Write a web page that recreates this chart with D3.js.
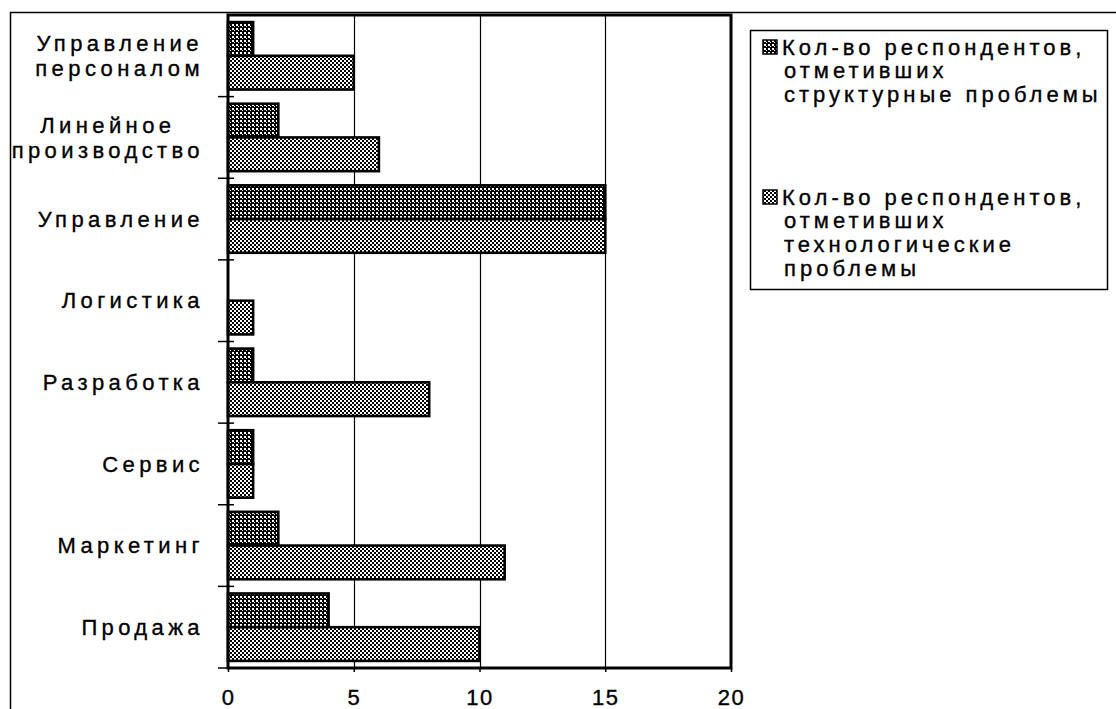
<!DOCTYPE html>
<html>
<head>
<meta charset="utf-8">
<script src="https://cdn.jsdelivr.net/npm/d3@7"></script>
<style>
  html, body { margin: 0; padding: 0; background: #fff; }
  svg { display: block; }
  text { font-family: "Liberation Sans", Arial, sans-serif; fill: #000; stroke: #000; stroke-width: 0.35px; }
</style>
</head>
<body>
<svg id="chart" width="1116" height="709"></svg>
<script>
// Departments (top to bottom) with label lines
const categories = ["Управление персоналом", "Линейное производство", "Управление", "Логистика", "Разработка", "Сервис", "Маркетинг", "Продажа"];
const categoryLines = [["Управление", "персоналом"], ["Линейное", "производство"], ["Управление"], ["Логистика"], ["Разработка"], ["Сервис"], ["Маркетинг"], ["Продажа"]];
// Respondents reporting structural problems
const structural = [1, 2, 15, 0, 1, 1, 2, 4];
// Respondents reporting technological problems
const technological = [5, 6, 15, 1, 8, 1, 11, 10];
const xTicks = [0, 5, 10, 15, 20];
const seriesNames = [
  ["Кол-во респондентов,", "отметивших", "структурные проблемы"],
  ["Кол-во респондентов,", "отметивших", "технологические", "проблемы"]
];

const svg = d3.select("#chart");
const defs = svg.append("defs");

// Dark dotted fill: black with sparse white dots
const p1 = defs.append("pattern").attr("id", "patDark")
  .attr("patternUnits", "userSpaceOnUse").attr("width", 4).attr("height", 4);
p1.append("rect").attr("width", 4).attr("height", 4).attr("fill", "#000");
p1.append("rect").attr("x", 0).attr("y", 0).attr("width", 2).attr("height", 2).attr("fill", "#fff");
p1.append("rect").attr("x", 2).attr("y", 2).attr("width", 1).attr("height", 1).attr("fill", "#fff");

// Light checker fill
const p2 = defs.append("pattern").attr("id", "patLight")
  .attr("patternUnits", "userSpaceOnUse").attr("width", 4).attr("height", 4);
p2.append("rect").attr("width", 4).attr("height", 4).attr("fill", "#000");
p2.append("rect").attr("x", 0).attr("y", 0).attr("width", 2).attr("height", 2).attr("fill", "#fff");
p2.append("rect").attr("x", 2).attr("y", 2).attr("width", 2).attr("height", 2).attr("fill", "#fff");

// Outer frame (left and top edges)
svg.append("line").attr("x1", 10.5).attr("y1", 12).attr("x2", 10.5).attr("y2", 709).attr("stroke", "#000").attr("stroke-width", 1.5);
svg.append("line").attr("x1", 10).attr("y1", 12.5).attr("x2", 1116).attr("y2", 12.5).attr("stroke", "#000").attr("stroke-width", 1.5);

const plot = { left: 228, right: 731, top: 15, bottom: 668 };

const x = d3.scaleLinear().domain([0, 20]).range([plot.left, plot.right]);
const y = d3.scaleBand().domain(categories).range([plot.top, plot.bottom]).paddingInner(0).paddingOuter(0);
const inner = d3.scaleBand().domain(["s", "t"]).range([0, y.bandwidth()]).paddingOuter(0.21).paddingInner(0);

// Vertical gridlines
svg.append("g").selectAll("line").data(xTicks.slice(1, -1)).join("line")
  .attr("x1", d => Math.round(x(d)) + 0.5).attr("x2", d => Math.round(x(d)) + 0.5)
  .attr("y1", plot.top).attr("y2", plot.bottom)
  .attr("stroke", "#000").attr("stroke-width", 1.2);

// Bars
const rows = categories.map((c, i) => ({ c, s: structural[i], t: technological[i] }));
const g = svg.append("g");
rows.forEach(r => {
  [["s", r.s, "url(#patDark)"], ["t", r.t, "url(#patLight)"]].forEach(([k, v, fill]) => {
    if (v <= 0) return;
    g.append("rect")
      .attr("x", x(0))
      .attr("y", y(r.c) + inner(k))
      .attr("width", x(v) - x(0))
      .attr("height", inner.bandwidth())
      .attr("fill", fill)
      .attr("stroke", "#000").attr("stroke-width", 2.6);
  });
});

// Plot area frame
svg.append("rect").attr("x", plot.left).attr("y", plot.top)
  .attr("width", plot.right - plot.left).attr("height", plot.bottom - plot.top)
  .attr("fill", "none").attr("stroke", "#000").attr("stroke-width", 3);

// Category boundary ticks crossing the value axis
const bounds = d3.range(categories.length + 1).map(i => plot.top + i * y.step());
svg.append("g").selectAll("line").data(bounds.slice(1)).join("line")
  .attr("x1", plot.left - 10).attr("x2", plot.left + 6)
  .attr("y1", d => d).attr("y2", d => d)
  .attr("stroke", "#000").attr("stroke-width", 1.5);

// Bottom value axis labels
const xAxis = d3.axisBottom(x).tickValues(xTicks).tickSize(4).tickPadding(17).tickFormat(d3.format("d"));
const ax = svg.append("g").attr("transform", `translate(0,${plot.bottom})`).call(xAxis);
ax.select(".domain").remove();
ax.selectAll(".tick line").attr("stroke", "#000").attr("stroke-width", 1.5);
ax.selectAll("text").attr("font-size", 22).attr("font-family", "Liberation Sans, Arial, sans-serif")
  .attr("fill", "#000").attr("letter-spacing", "1.5px");

// Category labels
const labelRight = 204;
const lblFont = 22, lblSpacing = 4.4, lineH = 25;
categoryLines.forEach((lines, i) => {
  const cy = y(categories[i]) + y.bandwidth() / 2;
  const t = svg.append("text").attr("font-size", lblFont).attr("letter-spacing", lblSpacing + "px");
  if (lines.length === 1) {
    t.attr("x", labelRight).attr("y", cy).attr("dy", "0.35em").attr("text-anchor", "end").text(lines[0]);
  } else {
    // measure widest line so the block is right-aligned and lines centered
    const tmp = svg.append("text").attr("font-size", lblFont).attr("letter-spacing", lblSpacing + "px");
    let maxW = 0;
    lines.forEach(l => { tmp.text(l); maxW = Math.max(maxW, tmp.node().getComputedTextLength()); });
    tmp.remove();
    const cx = labelRight - maxW / 2;
    t.attr("text-anchor", "middle");
    lines.forEach((l, j) => {
      t.append("tspan").attr("x", cx).attr("y", cy + (j - (lines.length - 1) / 2) * lineH)
        .attr("dy", "0.35em").text(l);
    });
  }
});

// Legend
const legend = svg.append("g");
legend.append("rect").attr("x", 750.5).attr("y", 30.5).attr("width", 357).attr("height", 259)
  .attr("fill", "#fff").attr("stroke", "#000").attr("stroke-width", 1.5);
const legStarts = [47, 197];
const legFills = ["url(#patDark)", "url(#patLight)"];
seriesNames.forEach((lines, i) => {
  legend.append("rect").attr("x", 763).attr("y", legStarts[i] - 7).attr("width", 14).attr("height", 14)
    .attr("fill", legFills[i]).attr("stroke", "#000").attr("stroke-width", 1.5);
  const t = legend.append("text").attr("font-size", 22).attr("letter-spacing", "4px");
  lines.forEach((l, j) => {
    t.append("tspan").attr("x", j === 0 ? 782 : 784).attr("y", legStarts[i] + j * 23.7).attr("dy", "0.35em").text(l);
  });
});
</script>
</body>
</html>
